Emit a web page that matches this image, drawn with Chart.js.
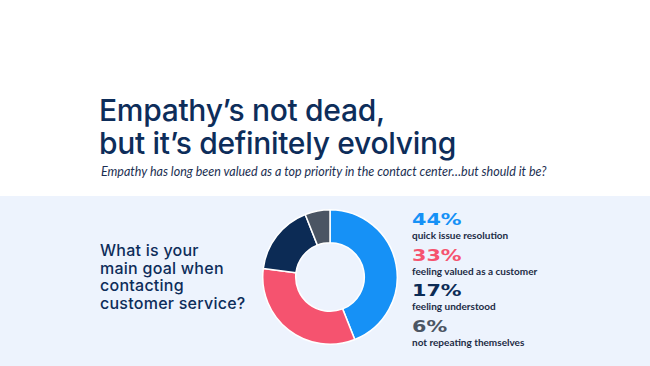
<!DOCTYPE html>
<html><head><meta charset="utf-8">
<script src="https://cdn.jsdelivr.net/npm/chart.js@4.4.1/dist/chart.umd.min.js"></script>
<style>
html,body{margin:0;padding:0;width:650px;height:366px;overflow:hidden;background:#fff;font-family:Lato,"Noto Sans",sans-serif;}
#band{position:absolute;left:0;top:196px;width:650px;height:170px;background:#edf3fd;}
.t{position:absolute;white-space:nowrap;color:#0d2d5a;}
#title{left:99px;top:94px;font-family:Inter,sans-serif;font-size:30px;line-height:33px;font-weight:500;letter-spacing:-0.3px;}
#sub{left:101px;top:165px;font-size:12.5px;line-height:14px;font-style:italic;font-weight:400;color:#1c2f52;}
.q{position:absolute;left:100px;white-space:nowrap;color:#0d2d5a;font-family:Inter,sans-serif;font-size:16px;line-height:17px;height:17px;font-weight:500;letter-spacing:0.25px;}
#wrap{position:absolute;left:262px;top:209px;width:136px;height:136px;}
.pct{position:absolute;left:412px;font-family:"DejaVu Sans",sans-serif;font-weight:700;font-size:15px;line-height:16px;transform-origin:0 50%;transform:scaleX(1.38);}
.lab{position:absolute;left:412px;font-size:10px;line-height:12px;font-weight:700;color:#1c2b45;}
</style></head>
<body>
<div id="band"></div>
<div class="t" id="title">Empathy’s not dead,<br>but it’s definitely evolving</div>
<div class="t" id="sub">Empathy has long been valued as a top priority in the contact center…but should it be?</div>
<div class="q" style="top:242px">What is your</div>
<div class="q" style="top:259.5px">main goal when</div>
<div class="q" style="top:277px">contacting</div>
<div class="q" style="top:294.5px">customer service?</div>
<div id="wrap"><canvas id="c"></canvas></div>
<div id="legend"></div>
<script>
const categories = ['quick issue resolution', 'feeling valued as a customer', 'feeling understood', 'not repeating themselves'];
const values = [44, 33, 17, 6];
const colors = ['#1691f6', '#f5536f', '#0c2b55', '#4b5563'];

const legend = document.getElementById('legend');
categories.forEach((name, i) => {
  const p = document.createElement('div');
  p.className = 'pct';
  p.style.top = (212 + i * 35.7) + 'px';
  p.style.color = colors[i];
  p.textContent = values[i] + '%';
  legend.appendChild(p);
  const l = document.createElement('div');
  l.className = 'lab';
  l.style.top = (229 + i * 35.7) + 'px';
  l.textContent = name;
  legend.appendChild(l);
});

new Chart(document.getElementById('c'), {
  type: 'doughnut',
  data: {
    labels: categories,
    datasets: [{
      data: values,
      backgroundColor: colors,
      borderColor: '#ffffff',
      borderWidth: 1.5,
      hoverOffset: 0
    }]
  },
  options: {
    responsive: true,
    maintainAspectRatio: false,
    animation: false,
    cutout: '51%',
    layout: { padding: 0 },
    plugins: { legend: { display: false }, tooltip: { enabled: false } }
  }
});
</script>
</body></html>
